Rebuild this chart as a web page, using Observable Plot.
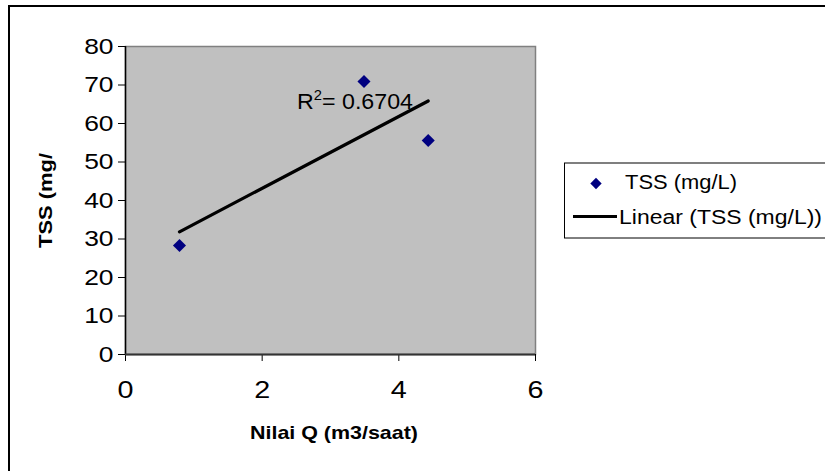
<!DOCTYPE html>
<html>
<head>
<meta charset="utf-8">
<script src="https://cdn.jsdelivr.net/npm/d3@7"></script>
<script src="https://cdn.jsdelivr.net/npm/@observablehq/plot@0.6"></script>
<style>
  html, body { margin: 0; padding: 0; background: #fff; }
  #wrap { position: relative; width: 825px; height: 471px; overflow: hidden; background: #fff; }
  #wrap > svg { position: absolute; left: 0; top: 0; }
  #overlay { pointer-events: none; font-family: "Liberation Sans", Arial, sans-serif; }
</style>
</head>
<body>
<div id="wrap"></div>
<script>
// Data
const qValues = [0.79, 3.49, 4.43];          // Nilai Q (m3/saat)
const tssValues = [28.3, 70.9, 55.6];        // TSS (mg/L)
const xTicks = [0, 2, 4, 6];
const yTicks = [0, 10, 20, 30, 40, 50, 60, 70, 80];
const xTitle = "Nilai Q (m3/saat)";
const yTitle = "TSS (mg/";
const seriesName = "TSS (mg/L)";
const trendName = "Linear (TSS (mg/L))";
const r2Text = "0.6704";

const data = qValues.map((q, i) => ({q, tss: tssValues[i]}));

const chart = Plot.plot({
  width: 825,
  height: 471,
  marginLeft: 125,
  marginRight: 290,
  marginTop: 46,
  marginBottom: 117,
  style: {fontFamily: "Liberation Sans, Arial, sans-serif", fontSize: "21px", background: "transparent", color: "#000"},
  x: {domain: [0, 6]},
  y: {domain: [0, 80]},
  marks: [
    Plot.frame({fill: "#c0c0c0", stroke: "#808080", strokeWidth: 1.5}),
    Plot.axisY({ticks: yTicks, tickFormat: d3.format("d"), tickSize: 7, tickPadding: 5, label: null, fontSize: 22, stroke: "#000"}),
    Plot.axisX({ticks: xTicks, tickFormat: d3.format("d"), tickSize: 7, tickPadding: 20, label: null, fontSize: 23, stroke: "#000"}),
    Plot.ruleX([0], {stroke: "#000", strokeWidth: 1.5}),
    Plot.ruleY([0], {stroke: "#333", strokeWidth: 2}),
    Plot.linearRegressionY(data, {x: "q", y: "tss", ci: 0, stroke: "#000", strokeWidth: 3.2}),
    Plot.dot(data, {x: "q", y: "tss", symbol: "square", rotate: 45, r: 5.2, fill: "#000080", stroke: "none"})
  ]
});

// stretch tick labels horizontally, like the reference
chart.querySelectorAll("text").forEach(t => {
  const tr = t.getAttribute("transform");
  const yAxis = t.closest('[aria-label="y-axis tick label"]');
  const s = yAxis ? 1.2 : 1.25;
  if (tr) {
    t.setAttribute("transform", `${tr} scale(${s},1)`);
  } else {
    const x = parseFloat(t.getAttribute("x") || "0");
    if (!isNaN(x)) {
      t.setAttribute("x", 0);
      t.setAttribute("transform", `translate(${x},0) scale(${s},1)`);
    }
  }
});

document.getElementById("wrap").appendChild(chart);

// overlay: chart border, titles, R² annotation, legend
const ns = "http://www.w3.org/2000/svg";
const ov = d3.select("#wrap").append("svg")
  .attr("id", "overlay").attr("width", 825).attr("height", 471)
  .attr("xmlns", ns);

ov.append("rect").attr("x", 9).attr("y", 6).attr("width", 900).attr("height", 600)
  .attr("fill", "none").attr("stroke", "#000").attr("stroke-width", 2);

ov.append("text").attr("transform", "translate(52,200.5) rotate(-90)")
  .attr("text-anchor", "middle").attr("font-weight", "bold").attr("font-size", 19)
  .attr("textLength", 95).attr("lengthAdjust", "spacingAndGlyphs").text(yTitle);

ov.append("text").attr("x", 250).attr("y", 438.5)
  .attr("font-weight", "bold").attr("font-size", 19)
  .attr("textLength", 168).attr("lengthAdjust", "spacingAndGlyphs").text(xTitle);

const r2 = ov.append("text").attr("x", 297).attr("y", 108.5).attr("font-size", 22)
  .attr("textLength", 116).attr("lengthAdjust", "spacingAndGlyphs");
r2.append("tspan").text("R");
r2.append("tspan").attr("font-size", 14).attr("dy", -9).text("2");
r2.append("tspan").attr("dy", 9).text("= " + r2Text);

// legend
ov.append("rect").attr("x", 564.5).attr("y", 163).attr("width", 300).attr("height", 75)
  .attr("fill", "#fff").attr("stroke", "#000").attr("stroke-width", 1);
ov.append("path").attr("d", d3.symbol(d3.symbolSquare, 64)())
  .attr("transform", "translate(596,183.5) rotate(45)").attr("fill", "#000080");
ov.append("text").attr("x", 625).attr("y", 188.5).attr("font-size", 19.5)
  .attr("textLength", 112).attr("lengthAdjust", "spacingAndGlyphs").text(seriesName);
ov.append("line").attr("x1", 573).attr("x2", 617).attr("y1", 216.5).attr("y2", 216.5)
  .attr("stroke", "#000").attr("stroke-width", 3);
ov.append("text").attr("x", 619).attr("y", 224).attr("font-size", 19.5)
  .attr("textLength", 203).attr("lengthAdjust", "spacingAndGlyphs").text(trendName);
</script>
</body>
</html>
